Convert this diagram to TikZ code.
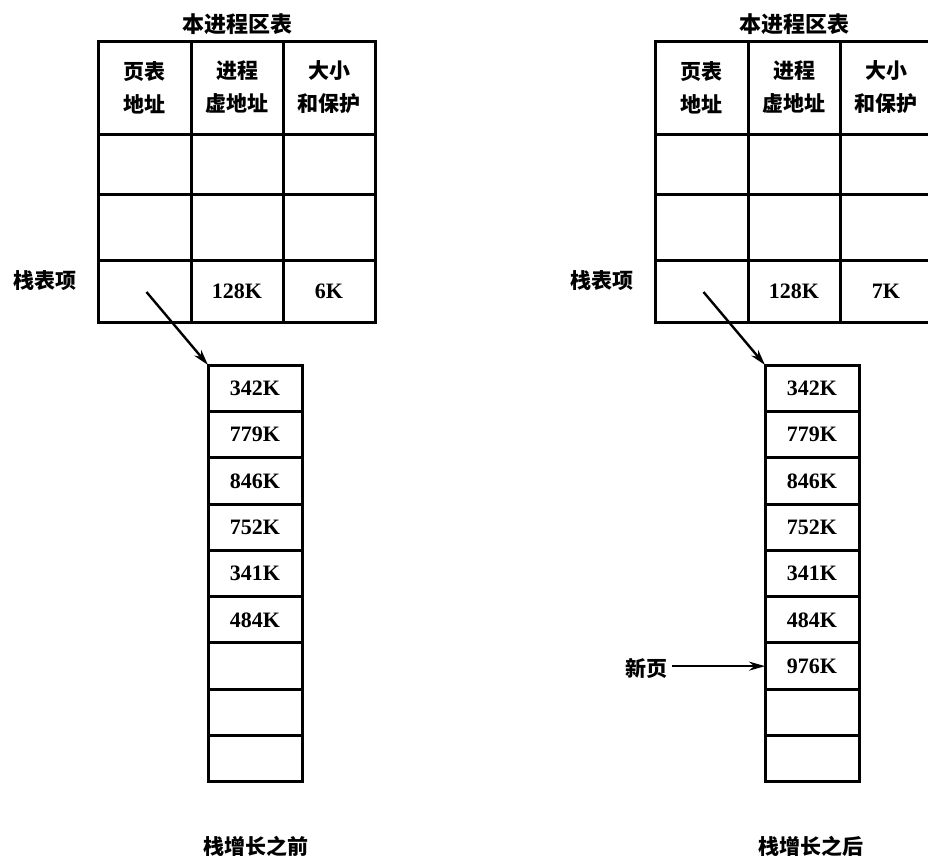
\documentclass[tikz,border=0pt]{standalone}
\usepackage{fontspec}
\setmainfont{Liberation Serif}
\newfontfamily\cjk{Noto Sans CJK SC}
\usetikzlibrary{arrows.meta}
\tikzset{
  cell/.style={draw, line width=3pt, anchor=north west, inner sep=0pt, outer sep=0pt, align=center,
    font=\cjk\bfseries\fontsize{21}{33}\selectfont},
  numtxt/.style={font=\bfseries\fontsize{22}{24}\selectfont},
  cjklbl/.style={font=\cjk\bfseries\fontsize{21}{24}\selectfont, inner sep=0pt},
  ptr/.style={line width=2.4pt, -{Stealth[length=16pt,width=9pt]}},
}
\newcommand\mkside[4]{%
  % #1 name, #2 x offset, #3 size entry, #4 new page entry
  \node[cjklbl, font=\cjk\bfseries\fontsize{22}{24}\selectfont] (#1-title) at ({#2+139},24) {本进程区表};
  \node[cell, minimum width=93pt, minimum height=93pt] (#1-h1) at ({#2},41) {页表\\地址};
  \node[cell, minimum width=92pt, minimum height=93pt] (#1-h2) at ({#2+93},41) {进程\\虚地址};
  \node[cell, minimum width=92pt, minimum height=93pt] (#1-h3) at ({#2+185},41) {大小\\和保护};
  \node[cell, minimum width=93pt, minimum height=60pt] (#1-r1c1) at ({#2},134) {};
  \node[cell, minimum width=92pt, minimum height=60pt] (#1-r1c2) at ({#2+93},134) {};
  \node[cell, minimum width=92pt, minimum height=60pt] (#1-r1c3) at ({#2+185},134) {};
  \node[cell, minimum width=93pt, minimum height=66pt] (#1-r2c1) at ({#2},194) {};
  \node[cell, minimum width=92pt, minimum height=66pt] (#1-r2c2) at ({#2+93},194) {};
  \node[cell, minimum width=92pt, minimum height=66pt] (#1-r2c3) at ({#2+185},194) {};
  \node[cell, minimum width=93pt, minimum height=62pt] (#1-r3c1) at ({#2},260) {};
  \node[cell, numtxt, minimum width=92pt, minimum height=62pt] (#1-r3c2) at ({#2+93},260) {128K};
  \node[cell, numtxt, minimum width=92pt, minimum height=62pt] (#1-r3c3) at ({#2+185},260) {#3};
  \node[cjklbl] (#1-entry) at ({#2-53},281) {栈表项};
  \foreach \v [count=\i] in {342K,779K,846K,752K,341K,484K,{#4},{},{}} {
    \node[cell, numtxt, minimum width=94pt, minimum height=46.33pt] (#1-s\i) at ({#2+110},{365+(\i-1)*46.33}) {\v};
  }
  \coordinate (#1-from) at ([xshift=2pt,yshift=-1pt]#1-r3c1.center);
  \draw[ptr] (#1-from) -- (#1-s1.north west);
}
\begin{document}
\begin{tikzpicture}[x=1pt,y=-1pt]
\useasboundingbox (0,0) rectangle (928,857);
\clip (0,0) rectangle (928,857);
\fill[white] (0,0) rectangle (928,857);
\mkside{L}{98}{6K}{}
\mkside{R}{655}{7K}{976K}
\node[cjklbl] (newpg) at (646,668) {新页};
\coordinate (newfrom) at ([xshift=5pt]newpg.east |- R-s7.west);
\draw[ptr] (newfrom) -- (R-s7.west);
\node[cjklbl] (capL) at (256,846) {栈增长之前};
\node[cjklbl] (capR) at (811,846) {栈增长之后};
\end{tikzpicture}
\end{document}
